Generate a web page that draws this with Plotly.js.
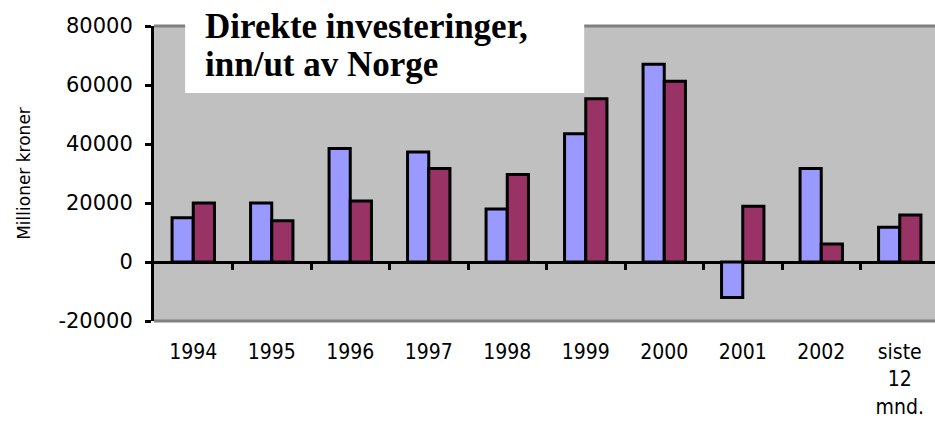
<!DOCTYPE html>
<html>
<head>
<meta charset="utf-8">
<script src="https://cdn.plot.ly/plotly-3.0.1.min.js"></script>
<style>
  html, body { margin: 0; padding: 0; background: #fff; overflow: hidden; }
  #wrap { width: 935px; height: 426px; overflow: hidden; }
</style>
</head>
<body>
<div id="wrap"><div id="chart"></div></div>
<script>
// data (millioner kroner)
const categories = ['1994', '1995', '1996', '1997', '1998', '1999', '2000', '2001', '2002', 'siste<br>12<br>mnd.'];
const innValues = [15000, 20000, 38500, 37300, 18000, 43500, 67000, -12000, 31700, 11800];
const utValues = [20000, 14000, 20700, 31700, 29700, 55300, 61300, 18900, 6100, 15900];
const titleLines = ['Direkte investeringer,', 'inn/ut av Norge'];
const yTicks = [-20000, 0, 20000, 40000, 60000, 80000];

const yMin = yTicks[0];
const yMax = yTicks[yTicks.length - 1];

const barLine = { color: '#000', width: 3 };

const data = [
  {
    type: 'bar',
    name: 'Inn',
    x: categories,
    y: innValues,
    marker: { color: '#9999ff', line: barLine },
    hoverinfo: 'x+y'
  },
  {
    type: 'bar',
    name: 'Ut',
    x: categories,
    y: utValues,
    marker: { color: '#993366', line: barLine },
    hoverinfo: 'x+y'
  }
];

// tick marks between the categories, on the zero line
const boundaries = categories.slice(1).map((c, i) => i + 0.5);

const layout = {
  width: 939,
  height: 426,
  margin: { l: 154, r: 0, t: 26, b: 105 },
  paper_bgcolor: '#fff',
  plot_bgcolor: '#c0c0c0',
  showlegend: false,
  barmode: 'group',
  bargap: 0.46,
  bargroupgap: 0,
  font: { family: 'DejaVu Sans, sans-serif', color: '#000' },
  xaxis: {
    type: 'category',
    showgrid: false,
    zeroline: false,
    showline: false,
    ticks: '',
    ticklabelstandoff: 16,
    tickfont: { family: 'DejaVu Sans Condensed, DejaVu Sans, sans-serif', size: 21 }
  },
  xaxis2: {
    overlaying: 'x',
    anchor: 'free',
    position: (0 - yMin) / (yMax - yMin),
    range: [-0.5, categories.length - 0.5],
    tickvals: boundaries,
    ticks: 'outside',
    ticklen: 7,
    tickwidth: 3,
    tickcolor: '#000',
    showticklabels: false,
    showgrid: false,
    zeroline: false,
    showline: false
  },
  yaxis: {
    range: [yMin, yMax],
    tickvals: yTicks,
    ticktext: yTicks.map(String),
    showgrid: false,
    zeroline: true,
    zerolinecolor: '#000',
    zerolinewidth: 3,
    showline: true,
    linecolor: '#000',
    linewidth: 3,
    ticks: 'outside',
    ticklen: 6,
    tickwidth: 3,
    tickcolor: '#000',
    ticklabelstandoff: 8,
    tickfont: { size: 21 },
    title: {
      text: 'Millioner kroner',
      font: { size: 17 },
      standoff: 24
    }
  },
  shapes: [
    { type: 'line', xref: 'paper', yref: 'paper', x0: 0, x1: 1, y0: 1, y1: 1,
      line: { color: '#808080', width: 3 } },
    { type: 'line', xref: 'paper', yref: 'paper', x0: 0, x1: 1, y0: 0, y1: 0,
      line: { color: '#808080', width: 3 } },
    // white box behind the title
    { type: 'rect', xref: 'paper', yref: 'paper', x0: 0.0397, x1: 0.548, y0: 0.773, y1: 1.1,
      fillcolor: '#fff', line: { width: 0 } }
  ],
  annotations: titleLines.map((t, i) => ({
    text: t,
    xref: 'paper', yref: 'paper',
    x: 0.063, y: 1.0 - i * 0.132,
    xanchor: 'left', yanchor: 'middle',
    showarrow: false,
    font: { family: 'Liberation Serif, Times New Roman, serif', size: 35, weight: 'bold', color: '#000' }
  }))
};

// a dummy trace keeps xaxis2 alive for the boundary ticks
data.push({ type: 'scatter', x: [0], y: [0], xaxis: 'x2', mode: 'markers',
  marker: { opacity: 0 }, hoverinfo: 'skip' });

Plotly.newPlot('chart', data, layout, { displayModeBar: false, staticPlot: true });
</script>
</body>
</html>
